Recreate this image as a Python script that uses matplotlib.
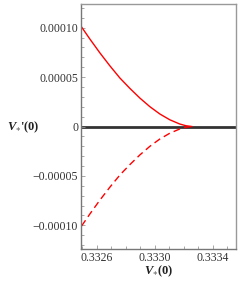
import matplotlib
matplotlib.use("Agg")
import matplotlib.pyplot as plt
from matplotlib.ticker import FixedLocator, MultipleLocator

plt.rcParams['mathtext.fontset'] = 'custom'
plt.rcParams['mathtext.it'] = 'Liberation Serif:italic:bold'
plt.rcParams['mathtext.rm'] = 'Liberation Serif:bold'
plt.rcParams['mathtext.bf'] = 'Liberation Serif:bold'

# data
v0 = [0.332494, 0.332552, 0.332621, 0.332690, 0.332759, 0.332828, 0.332897,
      0.332966, 0.333034, 0.333103, 0.333172, 0.333214, 0.333255]
dv_upper = [1.007e-4, 8.84e-5, 7.44e-5, 6.13e-5, 4.9e-5, 3.85e-5, 2.87e-5,
            2.0e-5, 1.27e-5, 6.8e-6, 2.5e-6, 0.8e-6, 0.0]
dv_lower = [-1.007e-4, -8.84e-5, -7.44e-5, -6.13e-5, -4.9e-5, -3.85e-5, -2.87e-5,
            -2.0e-5, -1.27e-5, -6.8e-6, -2.5e-6, -0.8e-6, 0.0]

xticks = [0.3326, 0.3330, 0.3334]
xtick_labels = ["0.3326", "0.3330", "0.3334"]
yticks = [0.0001, 0.00005, 0.0, -0.00005, -0.0001]
ytick_labels = ["0.00010", "0.00005", "0", "\u22120.00005", "\u22120.00010"]

fig = plt.figure(figsize=(2.40, 2.87), dpi=100)
ax = fig.add_axes([81/240, 38/287, 155/240, 245/287])

ax.axhline(0, color='#333333', lw=2, zorder=1)
ax.plot(v0, dv_upper, color='red', lw=1, zorder=2)
ax.plot(v0, dv_lower, color='red', lw=1, ls=(0, (5, 3)), zorder=2)

ax.set_xlim(0.33249, 0.33356)
ax.set_ylim(-0.000124, 0.000124)

ax.xaxis.set_major_locator(FixedLocator(xticks))
ax.set_xticklabels(xtick_labels)
ax.xaxis.set_minor_locator(MultipleLocator(0.0001))
ax.yaxis.set_major_locator(FixedLocator(yticks))
ax.set_yticklabels(ytick_labels)
ax.yaxis.set_minor_locator(MultipleLocator(0.00001))

ax.tick_params(which='both', direction='in', colors='#999999', labelcolor='#333333',
               labelsize=8.5, width=0.6)
ax.tick_params(which='major', length=3, pad=2)
ax.tick_params(which='minor', length=2)
for lab in ax.get_xticklabels() + ax.get_yticklabels():
    lab.set_fontfamily('Liberation Serif')

for s in ax.spines.values():
    s.set_color('#999999')
    s.set_linewidth(1)
ax.spines['left'].set_color('#777777')
ax.spines['bottom'].set_color('#777777')

fig.text(23/240, 1 - 127/287, r"$V_{\ast}$'(0)", fontsize=9, color='#222222',
         ha='center', va='center', family='Liberation Serif', weight='bold')
fig.text(159/240, 1 - 271/287, r"$V_{\ast}$(0)", fontsize=9, color='#222222',
         ha='center', va='center', family='Liberation Serif', weight='bold')

fig.savefig("out.png", dpi=100, facecolor='white')
